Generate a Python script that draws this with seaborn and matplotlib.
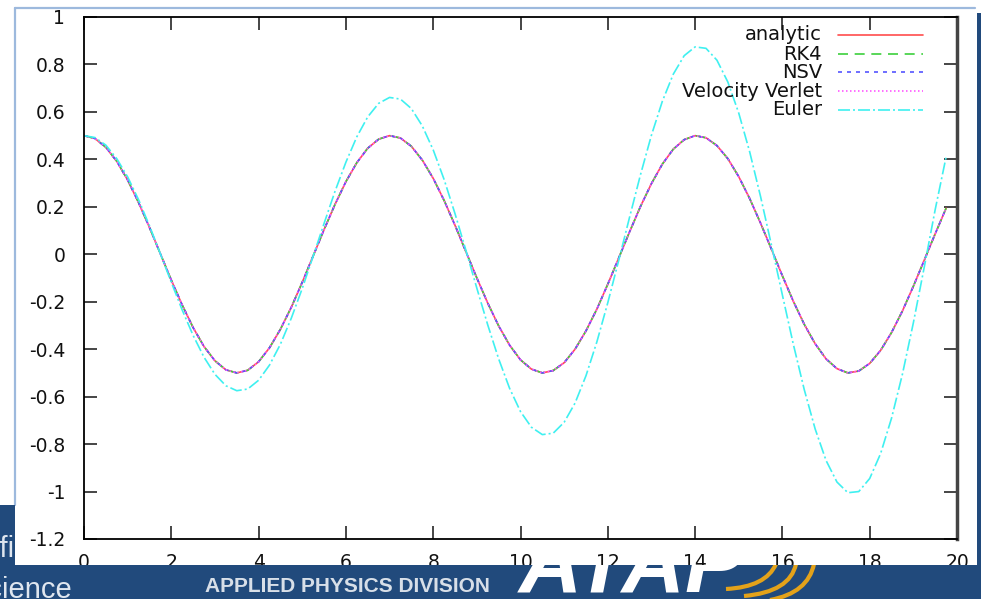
import numpy as np
import matplotlib
matplotlib.use('Agg')
import matplotlib.pyplot as plt
import seaborn as sns
from matplotlib.lines import Line2D
from matplotlib.path import Path
from matplotlib.patches import PathPatch

# sample grid (step 0.25) and values
t = np.arange(0, 20, 0.25)

analytic = [0.500, 0.488, 0.451, 0.392, 0.313, 0.218, 0.113, 0.002, -0.109, -0.214,
            -0.309, -0.389, -0.449, -0.487, -0.500, -0.489, -0.453, -0.394, -0.316, -0.223,
            -0.118, -0.007, 0.104, 0.210, 0.306, 0.386, 0.447, 0.485, 0.500, 0.490,
            0.455, 0.397, 0.320, 0.227, 0.122, 0.011, -0.100, -0.206, -0.302, -0.383,
            -0.445, -0.484, -0.500, -0.490, -0.457, -0.400, -0.323, -0.231, -0.126, -0.016,
            0.095, 0.202, 0.298, 0.380, 0.443, 0.483, 0.500, 0.491, 0.458, 0.403,
            0.327, 0.235, 0.131, 0.021, -0.091, -0.198, -0.295, -0.377, -0.441, -0.482,
            -0.500, -0.492, -0.460, -0.405, -0.330, -0.239, -0.135, -0.025, 0.086, 0.194]

# RK4, NSV and Velocity Verlet sit on top of the analytic curve
rk4 = list(analytic)
nsv = list(analytic)
verlet = list(analytic)

euler = [0.500, 0.492, 0.460, 0.403, 0.326, 0.230, 0.120, 0.002, -0.118, -0.235,
         -0.342, -0.434, -0.506, -0.554, -0.575, -0.568, -0.531, -0.467, -0.379, -0.269,
         -0.144, -0.008, 0.130, 0.265, 0.388, 0.495, 0.579, 0.636, 0.661, 0.654,
         0.614, 0.541, 0.440, 0.315, 0.171, 0.016, -0.143, -0.298, -0.441, -0.565,
         -0.663, -0.729, -0.760, -0.754, -0.708, -0.627, -0.512, -0.369, -0.204, -0.026,
         0.157, 0.336, 0.502, 0.645, 0.759, 0.837, 0.874, 0.868, 0.818, 0.726,
         0.595, 0.432, 0.243, 0.038, -0.172, -0.379, -0.570, -0.736, -0.869, -0.960,
         -1.005, -1.000, -0.945, -0.840, -0.691, -0.505, -0.289, -0.054, 0.188, 0.410]

labels = ['analytic', 'RK4', 'NSV', 'Velocity Verlet', 'Euler']
xticks = [0, 2, 4, 6, 8, 10, 12, 14, 16, 18, 20]
yticks = [-1.2, -1.0, -0.8, -0.6, -0.4, -0.2, 0.0, 0.2, 0.4, 0.6, 0.8, 1.0]
ytick_labels = ['-1.2', '-1', '-0.8', '-0.6', '-0.4', '-0.2', '0', '0.2', '0.4', '0.6', '0.8', '1']

W, H = 981, 599
BLUE = '#214a7c'

sns.set_style('ticks')
plt.rcParams['font.family'] = ['DejaVu Sans']
plt.rcParams['axes.unicode_minus'] = False


def box(x0, y0, x1, y1):
    # pixel box (y down) -> figure fraction rect
    return [x0 / W, 1 - y1 / H, (x1 - x0) / W, (y1 - y0) / H]


fig = plt.figure(figsize=(W / 100, H / 100), dpi=100)
fig.patch.set_facecolor('white')

ax = fig.add_axes(box(84, 17, 957, 539))
ax.set_facecolor('white')

styles = [
    dict(color='#ff4d4d', linestyle='-'),
    dict(color='#3ccf3c', linestyle=(0, (6, 4))),
    dict(color='#5555ff', linestyle=(0, (2.4, 3))),
    dict(color='#ff55ff', linestyle=(0, (0.9, 1.5))),
    dict(color='#3ff0f0', linestyle=(0, (7.2, 1.8, 1.2, 1.8))),
]
series = [analytic, rk4, nsv, verlet, euler]
for vals, st in zip(series, styles):
    sns.lineplot(x=t, y=vals, ax=ax, lw=1.2, **st)

ax.set_xlim(0, 20)
ax.set_ylim(-1.2, 1)
ax.set_xticks(xticks)
ax.set_xticklabels([str(v) for v in xticks])
ax.set_yticks(yticks)
ax.set_yticklabels(ytick_labels)
ax.set_xlabel('')
ax.set_ylabel('')
ax.tick_params(direction='in', length=9.5, width=1.2, top=True, right=True,
               labelsize=13.5, labelcolor='#111111')
ax.tick_params(axis='y', pad=13.5)
ax.tick_params(axis='x', pad=10)
for s in ax.spines.values():
    s.set_visible(True)
    s.set_linewidth(1.3)
    s.set_color('black')
ax.spines['right'].set_linewidth(2.5)
ax.spines['right'].set_color('#444444')

# gnuplot-style key: right aligned labels, sample line on the right
key_rows = [35, 54, 72, 91, 110]
for lab, st, yy in zip(labels, styles, key_rows):
    fig.text(822 / W, 1 - yy / H, lab, ha='right', va='center', fontsize=14, color='#111111')
    fig.add_artist(Line2D([838 / W, 923 / W], [1 - yy / H, 1 - yy / H],
                          transform=fig.transFigure, lw=1.2, **st))

# slide frame around the pasted plot
fig.add_artist(Line2D([15 / W, 975 / W], [1 - 8 / H, 1 - 8 / H],
                      transform=fig.transFigure, color='#9db9dd', lw=1.6))
fig.add_artist(Line2D([15 / W, 15 / W], [1 - 8 / H, 1 - 505 / H],
                      transform=fig.transFigure, color='#9db9dd', lw=1.6))


def strip(rect):
    a = fig.add_axes(rect, zorder=5)
    a.set_facecolor(BLUE)
    a.set_xticks([])
    a.set_yticks([])
    for s in a.spines.values():
        s.set_visible(False)
    return a


band = strip(box(0, 565, W, H))
band.set_xlim(0, W)
band.set_ylim(H, 565)

left = strip(box(0, 505, 15, 565))
left.set_xlim(0, 15)
left.set_ylim(565, 505)

right = strip(box(977, 13, W, 565))

left.text(29, 557, 'Scientific', ha='right', va='baseline', fontsize=21,
          color='#dfe6ef', family='Liberation Sans', clip_on=True)
band.text(72, 598, 'Science', ha='right', va='baseline', fontsize=21,
          color='#dfe6ef', family='Liberation Sans', clip_on=True)
apd = band.text(205, 592, 'APPLIED PHYSICS DIVISION', ha='left', va='baseline',
                fontsize=17, color='#d8dfe8', fontweight='bold',
                family=['Liberation Sans Narrow', 'Liberation Sans'], clip_on=True)
band.text(519, 591, 'ATAP', ha='left', va='baseline', fontsize=63,
          fontweight='bold', fontstyle='italic', color='white',
          family='Liberation Sans', clip_on=True)

# fit the division name to its width on the slide
r = fig.canvas.get_renderer()
w = apd.get_window_extent(r).width
apd.set_fontsize(17 * 287 / w)

# orange swoosh of the logo
for (x0, y0), (cx, cy), (x1, y1) in [((726, 589), (766, 587), (776, 564)),
                                     ((744, 596), (790, 592), (796, 564)),
                                     ((770, 600), (808, 593), (814, 564))]:
    p = Path([(x0, y0), (cx, cy), (x1, y1)], [Path.MOVETO, Path.CURVE3, Path.CURVE3])
    band.add_patch(PathPatch(p, fill=False, edgecolor='#e3a21a', lw=3, clip_on=True))

fig.savefig('out.png', dpi=100, facecolor=fig.get_facecolor())
